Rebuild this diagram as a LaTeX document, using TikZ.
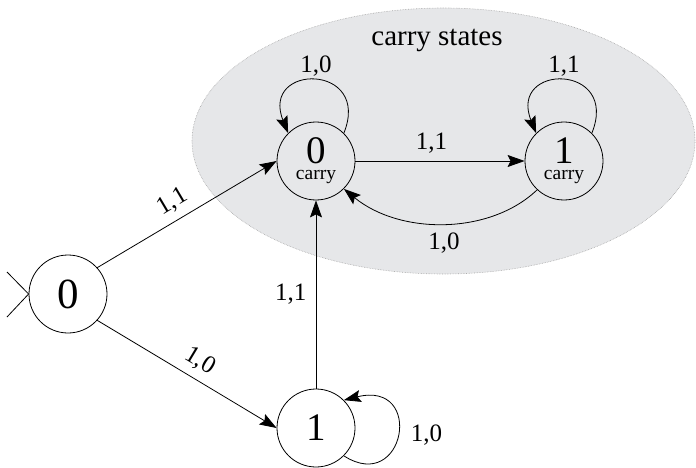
\documentclass[tikz,border=0pt]{standalone}
\usepackage{fontspec}
\setmainfont{Liberation Serif}
\usetikzlibrary{arrows.meta}

\definecolor{carrygray}{RGB}{230,231,233}
\tikzset{
  statenode/.style={draw, circle, minimum size=78pt, inner sep=0pt, line width=0.8pt,
    font=\fontsize{39}{16}\selectfont, align=center},
  edgelbl/.style={font=\fontsize{25}{25}\selectfont},
  grouplbl/.style={font=\fontsize{29}{29}\selectfont},
  arr/.style={->, line width=0.8pt},
}
\newcommand{\carrytxt}{\fontsize{19.5}{16}\selectfont carry}

\begin{document}
\begin{tikzpicture}[x=1pt, y=-1pt, >={Stealth[length=17pt,width=12pt,inset=3pt]}]
  \useasboundingbox (0,0) rectangle (696,468);

  % Carry region
  \draw[fill=carrygray, draw=gray!70, densely dotted, line width=0.6pt]
    (443.5,141) ellipse [x radius=251.5pt, y radius=133pt];
  \node[grouplbl] (cs) at (437,40) {carry states};

  % States
  \node[statenode, font=\fontsize{43}{16}\selectfont] (s) at (68,294) {0};
  \node[statenode] (c0) at (316,161) {0\\\carrytxt};
  \node[statenode] (c1) at (564,161) {1\\\carrytxt};
  \node[statenode] (n1) at (316,428) {1};

  % Start mark
  \coordinate (m1) at (7,272);
  \coordinate (m2) at (7,317);
  \draw[line width=0.8pt] (m1) -- (s.west) -- (m2);

  % Transitions
  \draw[arr] (s.42) -- node[edgelbl, sloped, above=4pt, pos=0.47] {1,1} (c0.west);
  \draw[arr] (s.-42) -- node[edgelbl, sloped, above=4pt, pos=0.52] {1,0} (n1.west);
  \draw[arr] (n1.north) -- node[edgelbl, left=6pt] {1,1} (c0.south);
  \draw[arr] (c0.east) -- node[edgelbl, above=4pt, pos=0.45] {1,1} (c1.west);
  \draw[arr] (c1.227) .. controls (490,235) and (400,235) .. node[edgelbl, below=6pt] {1,0} (c0.-45);

  % Loops
  \draw[arr] (c0.45) .. controls (372,63) and (260,63) .. node[edgelbl, above] {1,0} (c0.135);
  \draw[arr] (c1.45) .. controls (620,63) and (508,63) .. node[edgelbl, above] {1,1} (c1.135);
  \draw[arr] (n1.-45) .. controls (405,495) and (425,380) .. node[edgelbl, right=10pt] {1,0} (n1.45);
\end{tikzpicture}
\end{document}
